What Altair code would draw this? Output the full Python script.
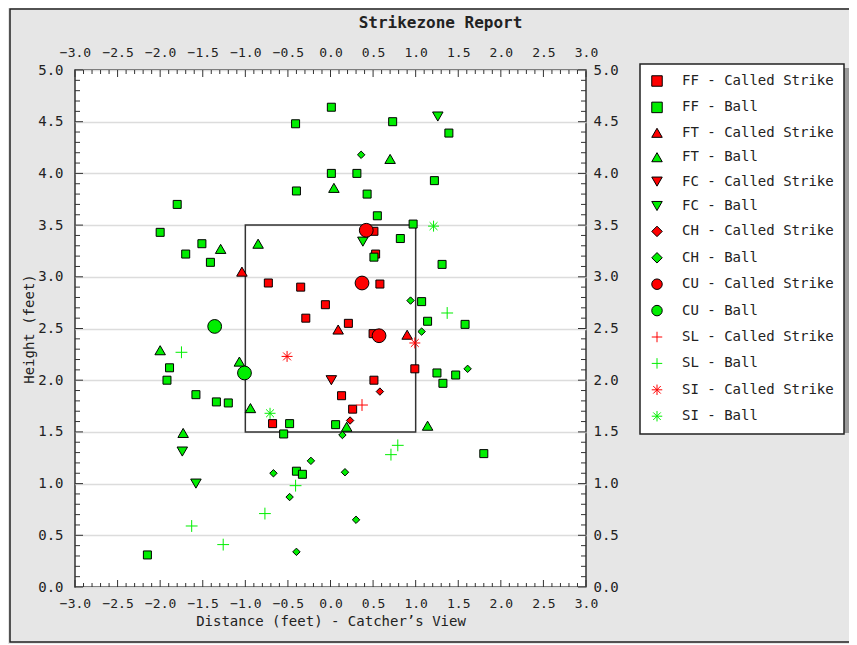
import altair as alt
import pandas as pd
import numpy as np

# ---- data (feet) ----
ff_strike_x = [-0.68, -0.73, -0.35, -0.29, -0.06, 0.21, 0.51, 0.53, 0.58, 0.50, 0.99, 0.51, 0.13, 0.26]
ff_strike_y = [1.58, 2.94, 2.90, 2.60, 2.73, 2.55, 3.44, 3.22, 2.93, 2.45, 2.11, 2.00, 1.85, 1.72]
ff_ball_x = [0.01, -0.41, 0.01, -0.40, -1.80, -2.00, -1.51, -1.70, -1.41, 0.73, 1.39, 0.31, 1.22, 0.43,
             0.55, 0.97, 0.82, 0.51, 1.31, 1.07, 1.14, 1.58, 1.25, 1.32, 1.47, 1.80, 0.06, -1.89,
             -1.92, -1.58, -1.34, -1.20, -0.48, -0.55, -0.40, -0.33, -2.15]
ff_ball_y = [4.64, 4.48, 4.00, 3.83, 3.70, 3.43, 3.32, 3.22, 3.14, 4.50, 4.39, 4.00, 3.93, 3.80,
             3.59, 3.51, 3.37, 3.19, 3.12, 2.76, 2.57, 2.54, 2.07, 1.97, 2.05, 1.29, 1.57, 2.12,
             2.00, 1.86, 1.79, 1.78, 1.58, 1.48, 1.12, 1.09, 0.31]
ft_strike_x = [-1.04, 0.09, 0.90]
ft_strike_y = [3.05, 2.49, 2.44]
ft_ball_x = [0.04, 0.70, -1.29, -0.85, -2.00, -1.07, -0.94, -1.73, 0.19, 1.14]
ft_ball_y = [3.86, 4.14, 3.27, 3.32, 2.29, 2.18, 1.73, 1.49, 1.55, 1.56]
fc_strike_x = [0.01]
fc_strike_y = [2.00]
fc_ball_x = [1.26, 0.38, -1.74, -1.58]
fc_ball_y = [4.55, 3.34, 1.31, 1.00]
ch_strike_x = [0.58, 0.23]
ch_strike_y = [1.89, 1.61]
ch_ball_x = [0.36, 0.94, 1.07, 1.61, 0.14, 0.17, 0.30, -0.23, -0.67, -0.48, -0.40]
ch_ball_y = [4.18, 2.77, 2.47, 2.11, 1.47, 1.11, 0.65, 1.22, 1.10, 0.87, 0.34]
cu_strike_x = [0.42, 0.37, 0.57]
cu_strike_y = [3.45, 2.94, 2.43]
cu_ball_x = [-1.36, -1.01]
cu_ball_y = [2.52, 2.07]
sl_strike_x = [0.37]
sl_strike_y = [1.76]
sl_ball_x = [1.37, -1.75, -0.41, -0.77, -1.63, -1.26, 0.79, 0.71]
sl_ball_y = [2.65, 2.27, 0.98, 0.71, 0.59, 0.41, 1.37, 1.28]
si_strike_x = [-0.51, 0.99]
si_strike_y = [2.23, 2.36]
si_ball_x = [1.21, -0.71]
si_ball_y = [3.49, 1.68]

zone_x = [-1.0, 1.0]
zone_y = [1.5, 3.5]

labels = ["FF - Called Strike", "FF - Ball", "FT - Called Strike", "FT - Ball",
          "FC - Called Strike", "FC - Ball", "CH - Called Strike", "CH - Ball",
          "CU - Called Strike", "CU - Ball", "SL - Called Strike", "SL - Ball",
          "SI - Called Strike", "SI - Ball"]
series = [(ff_strike_x, ff_strike_y), (ff_ball_x, ff_ball_y), (ft_strike_x, ft_strike_y),
          (ft_ball_x, ft_ball_y), (fc_strike_x, fc_strike_y), (fc_ball_x, fc_ball_y),
          (ch_strike_x, ch_strike_y), (ch_ball_x, ch_ball_y), (cu_strike_x, cu_strike_y),
          (cu_ball_x, cu_ball_y), (sl_strike_x, sl_strike_y), (sl_ball_x, sl_ball_y),
          (si_strike_x, si_strike_y), (si_ball_x, si_ball_y)]

rows = []
for lab, (xs_, ys_) in zip(labels, series):
    for a, b in zip(xs_, ys_):
        rows.append({"label": lab, "x": a, "y": b})
df = pd.DataFrame(rows)

RED = "#ff0000"
GREEN = "#00ee00"
PLUS = "M-1,0L1,0M0,-1L0,1"
STAR = "M-1,0L1,0M0,-1L0,1M-0.72,-0.72L0.72,0.72M-0.72,0.72L0.72,-0.72"
shape_range = ["square", "square", "triangle-up", "triangle-up", "triangle-down", "triangle-down",
               "diamond", "diamond", "circle", "circle", PLUS, PLUS, STAR, STAR]
fill_range = [RED, GREEN] * 5 + ["transparent"] * 4
stroke_range = ["#000000"] * 10 + [RED, GREEN, RED, GREEN]
size_range = [64, 64, 110, 110, 110, 110, 55, 55, 190, 190, 140, 140, 120, 120]

size_expr = "[" + ",".join(str(s) for s in size_range) + "][indexof([" + \
    ",".join("'" + l + "'" for l in labels) + "], datum.label)]"

W, H = 511, 517
FONT = "DejaVu Sans Mono"
xs = alt.Scale(domain=[-3, 3], nice=False, zero=False)
ys = alt.Scale(domain=[0, 5], nice=False, zero=False)
xvals = [round(v, 1) for v in np.arange(-3.0, 3.0001, 0.5)]
yvals = [round(v, 1) for v in np.arange(0.0, 5.0001, 0.5)]

LEG_X, LEG_Y = 565, -6
leg = alt.Legend(orient="none", legendX=LEG_X, legendY=LEG_Y, title=None)

points = alt.Chart(df).transform_calculate(sz=size_expr).mark_point(
    filled=True, opacity=1, strokeWidth=1).encode(
    x=alt.X("x:Q", scale=xs, axis=alt.Axis(orient="bottom", values=xvals, format=".1f",
            title="Distance (feet) - Catcher\u2019s View", ticks=False, domain=False, grid=False,
            labelPadding=10, titlePadding=4, labelFontSize=13)),
    y=alt.Y("y:Q", scale=ys, axis=alt.Axis(orient="left", values=yvals, format=".1f",
            title="Height (feet)", ticks=False, domain=False, grid=True, gridColor="#dcdcdc",
            gridWidth=1.5, labelPadding=12, titlePadding=1, labelFontSize=14)),
    shape=alt.Shape("label:N", scale=alt.Scale(domain=labels, range=shape_range), legend=leg),
    fill=alt.Fill("label:N", scale=alt.Scale(domain=labels, range=fill_range), legend=leg),
    stroke=alt.Stroke("label:N", scale=alt.Scale(domain=labels, range=stroke_range), legend=leg),
    size=alt.Size("sz:Q", scale=None, legend=None),
)

zone = alt.Chart(pd.DataFrame({"x": [zone_x[0]], "x2": [zone_x[1]], "y": [zone_y[0]], "y2": [zone_y[1]]})).mark_rect(
    fillOpacity=0, stroke="#333333", strokeWidth=1.5).encode(
    x=alt.X("x:Q", scale=xs, axis=None), x2="x2", y=alt.Y("y:Q", scale=ys, axis=None), y2="y2")

xt = pd.DataFrame({"v": [round(v, 1) for v in np.arange(-3.0, 3.0001, 0.1)]})
xt["major"] = (np.abs(xt["v"] * 2 - np.round(xt["v"] * 2)) < 1e-6)
yt = pd.DataFrame({"v": [round(v, 1) for v in np.arange(0.0, 5.0001, 0.1)]})
yt["major"] = (np.abs(yt["v"] * 2 - np.round(yt["v"] * 2)) < 1e-6)
xt_major, xt_minor = xt[xt.major], xt[~xt.major]
yt_major, yt_minor = yt[yt.major], yt[~yt.major]

TC = "#333333"
top_major = alt.Chart(xt_major).mark_rule(color=TC).encode(
    x=alt.X("v:Q", scale=xs, axis=alt.Axis(orient="top", values=xvals, format=".1f", title=None,
            ticks=False, domain=False, grid=False, labelPadding=11, labelFontSize=13)),
    y=alt.value(0), y2=alt.value(7))
top_minor = alt.Chart(xt_minor).mark_rule(color=TC).encode(
    x=alt.X("v:Q", scale=xs, axis=None), y=alt.value(0), y2=alt.value(4))
bot_major = alt.Chart(xt_major).mark_rule(color=TC).encode(
    x=alt.X("v:Q", scale=xs, axis=None), y=alt.value(H), y2=alt.value(H - 7))
bot_minor = alt.Chart(xt_minor).mark_rule(color=TC).encode(
    x=alt.X("v:Q", scale=xs, axis=None), y=alt.value(H), y2=alt.value(H - 4))
right_major = alt.Chart(yt_major).mark_rule(color=TC).encode(
    y=alt.Y("v:Q", scale=ys, axis=alt.Axis(orient="right", values=yvals, format=".1f", title=None,
            ticks=False, domain=False, grid=False, labelPadding=7, labelFontSize=14)),
    x=alt.value(W), x2=alt.value(W - 8))
right_minor = alt.Chart(yt_minor).mark_rule(color=TC).encode(
    y=alt.Y("v:Q", scale=ys, axis=None), x=alt.value(W), x2=alt.value(W - 5))
left_major = alt.Chart(yt_major).mark_rule(color=TC).encode(
    y=alt.Y("v:Q", scale=ys, axis=None), x=alt.value(0), x2=alt.value(8))
left_minor = alt.Chart(yt_minor).mark_rule(color=TC).encode(
    y=alt.Y("v:Q", scale=ys, axis=None), x=alt.value(0), x2=alt.value(5))

one = pd.DataFrame({"a": [0]})
# outer frame of the chart panel
frame = alt.Chart(one).mark_rect(fillOpacity=0, stroke="#222222", strokeWidth=1.5).encode(
    x=alt.value(-65), x2=alt.value(W + 275), y=alt.value(-61), y2=alt.value(H + 55))
# drop shadow behind the legend box
shadow = alt.Chart(one).mark_rect(fill="#9a9a9a").encode(
    x=alt.value(LEG_X + 4), x2=alt.value(LEG_X + 209), y=alt.value(LEG_Y + 4), y2=alt.value(LEG_Y + 369))

chart = alt.layer(
    frame, shadow, zone, top_minor, top_major, bot_minor, bot_major,
    left_minor, left_major, right_minor, right_major, points
).resolve_axis(x="independent", y="independent").properties(
    width=W, height=H,
    autosize=alt.AutoSizeParams(type="none"),
    padding={"left": 67, "top": 62, "right": 263, "bottom": 57},
    background="#e6e6e6",
    title=alt.Title("Strikezone Report", font=FONT, fontSize=16, fontWeight="bold", color="#222222",
                    anchor="middle", dx=110, offset=-23),
).configure_view(
    fill="white", stroke="#333333", strokeWidth=1.5
).configure_axis(
    labelFont=FONT, titleFont=FONT, labelColor="#222222", titleColor="#222222",
    titleFontWeight="normal", titleFontSize=14, labelFlush=False, labelOverlap=False,
).configure_legend(
    fillColor="white", strokeColor="#222222", strokeWidth=1.5,
    padding=10, labelFont=FONT, labelFontSize=14, labelColor="#222222", symbolSize=110,
    symbolStrokeWidth=1, rowPadding=10.4, labelOffset=18, labelLimit=300,
)

chart.save("out.html", embed_options={"renderer": "svg", "actions": False})
